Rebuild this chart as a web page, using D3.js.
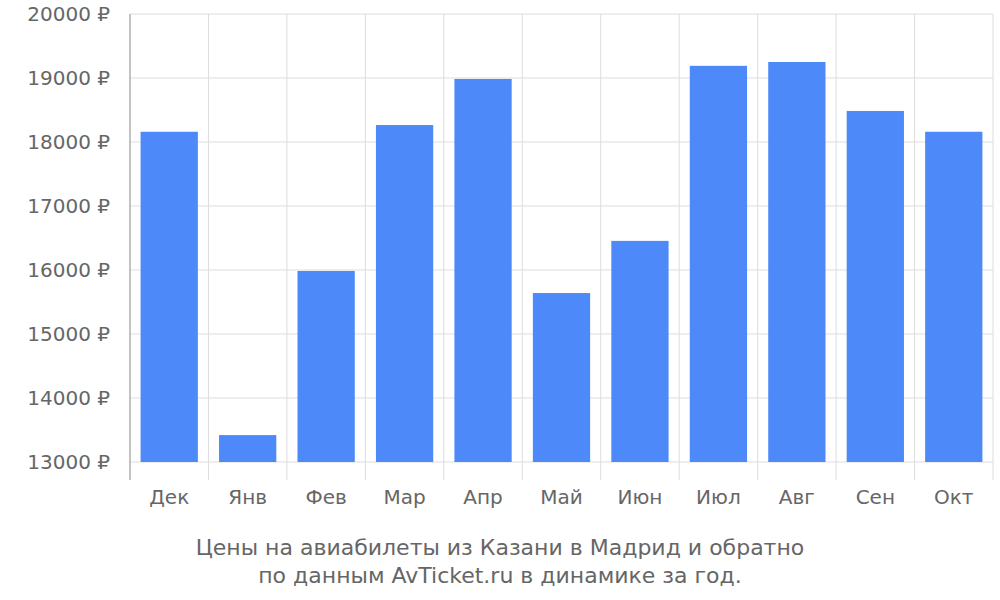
<!DOCTYPE html>
<html><head><meta charset="utf-8">
<script src="https://cdn.jsdelivr.net/npm/d3@7"></script>
<style>body{margin:0;background:#fff}text{font-family:"DejaVu Sans",sans-serif;fill:#666}</style>
</head><body><svg id="c" width="1000" height="600"></svg>
<script>
const categories=["Дек","Янв","Фев","Мар","Апр","Май","Июн","Июл","Авг","Сен","Окт"];
const values=[18160,13420,15985,18265,18985,15640,16455,19190,19250,18485,18160];
const yTicks=[13000,14000,15000,16000,17000,18000,19000,20000];
const titleLines=["Цены на авиабилеты из Казани в Мадрид и обратно","по данным AvTicket.ru в динамике за год."];
const svg=d3.select("#c");
const L=130,R=993,T=14,B=462;
const x=d3.scaleBand().domain(categories).range([L,R]).paddingInner(0.27).paddingOuter(0.135);
const xb=d3.scaleBand().domain(categories).range([L,R]);
const y=d3.scaleLinear().domain([13000,20000]).range([B,T]);
const g=svg.append("g");
// horizontal grid
g.selectAll(".h").data(yTicks).join("line").attr("x1",L).attr("x2",R).attr("y1",d=>y(d)).attr("y2",d=>y(d)).attr("stroke","#ddd");
// vertical grid
const bounds=categories.map(c=>xb(c)).concat([R]);
g.selectAll(".v").data(bounds).join("line").attr("x1",d=>d).attr("x2",d=>d).attr("y1",T).attr("y2",480).attr("stroke","#ddd");
g.append("line").attr("x1",L).attr("x2",L).attr("y1",T).attr("y2",480).attr("stroke","#999");
// bars
g.selectAll("rect").data(values).join("rect").attr("x",(d,i)=>x(categories[i])).attr("width",x.bandwidth())
 .attr("y",d=>y(d)).attr("height",d=>B-y(d)).attr("fill","#4d89f9");
// y labels
g.selectAll(".yl").data(yTicks).join("text").attr("x",110).attr("y",d=>y(d)+7).attr("text-anchor","end").attr("font-size",20).text(d=>d+" ₽");
// x labels
g.selectAll(".xl").data(categories).join("text").attr("x",d=>xb(d)+xb.bandwidth()/2).attr("y",504).attr("text-anchor","middle").attr("font-size",20).text(d=>d);
svg.selectAll(".t").data(titleLines).join("text").attr("x",500).attr("y",(d,i)=>555+i*28).attr("text-anchor","middle").attr("font-size",22).text(d=>d);
</script></body></html>
